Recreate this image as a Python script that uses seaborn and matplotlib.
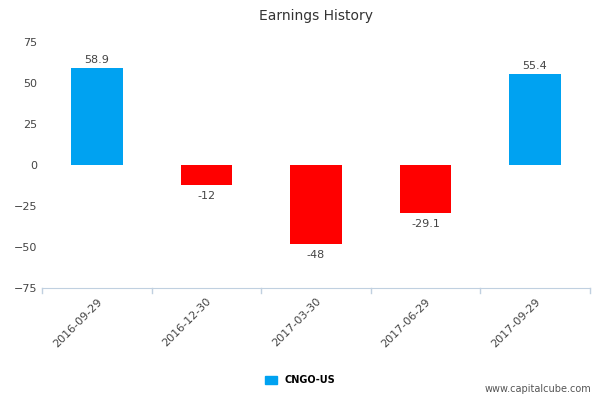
import numpy as np
import pandas as pd
import matplotlib
matplotlib.use("Agg")
import matplotlib.pyplot as plt
import seaborn as sns
from matplotlib.patches import Patch

# data
dates = ['2016-09-29', '2016-12-30', '2017-03-30', '2017-06-29', '2017-09-29']
earnings = [58.9, -12, -48, -29.1, 55.4]
labels = ['58.9', '-12', '-48', '-29.1', '55.4']
yticks = [75, 50, 25, 0, -25, -50, -75]

blue = '#00a2f1'
red = '#ff0000'
df = pd.DataFrame({'date': dates, 'earnings': earnings})
palette = [blue if v >= 0 else red for v in earnings]

fig = plt.figure(figsize=(6, 4), dpi=100)
ax = fig.add_axes([0.07, 0.28, 0.913, 0.615])
sns.barplot(data=df, x='date', y='earnings', hue='date', palette=palette,
            width=0.47, legend=False, ax=ax, saturation=1)

for i, (v, t) in enumerate(zip(earnings, labels)):
    off = 2 if v >= 0 else -4
    ax.text(i, v + off, t, ha='center', va='bottom' if v >= 0 else 'top',
            fontsize=8, color='#444444')

ax.set_ylim(-75, 75)
ax.set_xlim(-0.5, len(dates) - 0.5)
ax.set_yticks(yticks)
ax.tick_params(axis='y', length=0, labelsize=8, labelcolor='#444444')
ax.set_xticks(range(len(dates)))
ax.set_xticklabels(dates, rotation=45, ha='right', rotation_mode='anchor',
                   fontsize=8, color='#444444')
ax.tick_params(axis='x', length=0, pad=6)
for b in np.arange(-0.5, len(dates), 1):
    ax.plot([b, b], [-75, -78], color='#c0d0e0', lw=1, clip_on=False)
ax.set_xlabel('')
ax.set_ylabel('')
for s in ['top', 'right', 'left']:
    ax.spines[s].set_visible(False)
ax.spines['bottom'].set_color('#c0d0e0')
ax.set_title('Earnings History', fontsize=10, color='#333333', pad=16)

fig.legend(handles=[Patch(color=blue, label='CNGO-US')], loc='center',
           bbox_to_anchor=(0.5, 0.05), frameon=False, handlelength=1.2,
           handleheight=0.9, prop={'size': 7, 'weight': 'bold'})
fig.text(0.985, 0.015, 'www.capitalcube.com', ha='right', va='bottom',
         fontsize=7, color='#555555')

fig.savefig('out.png', dpi=100)
